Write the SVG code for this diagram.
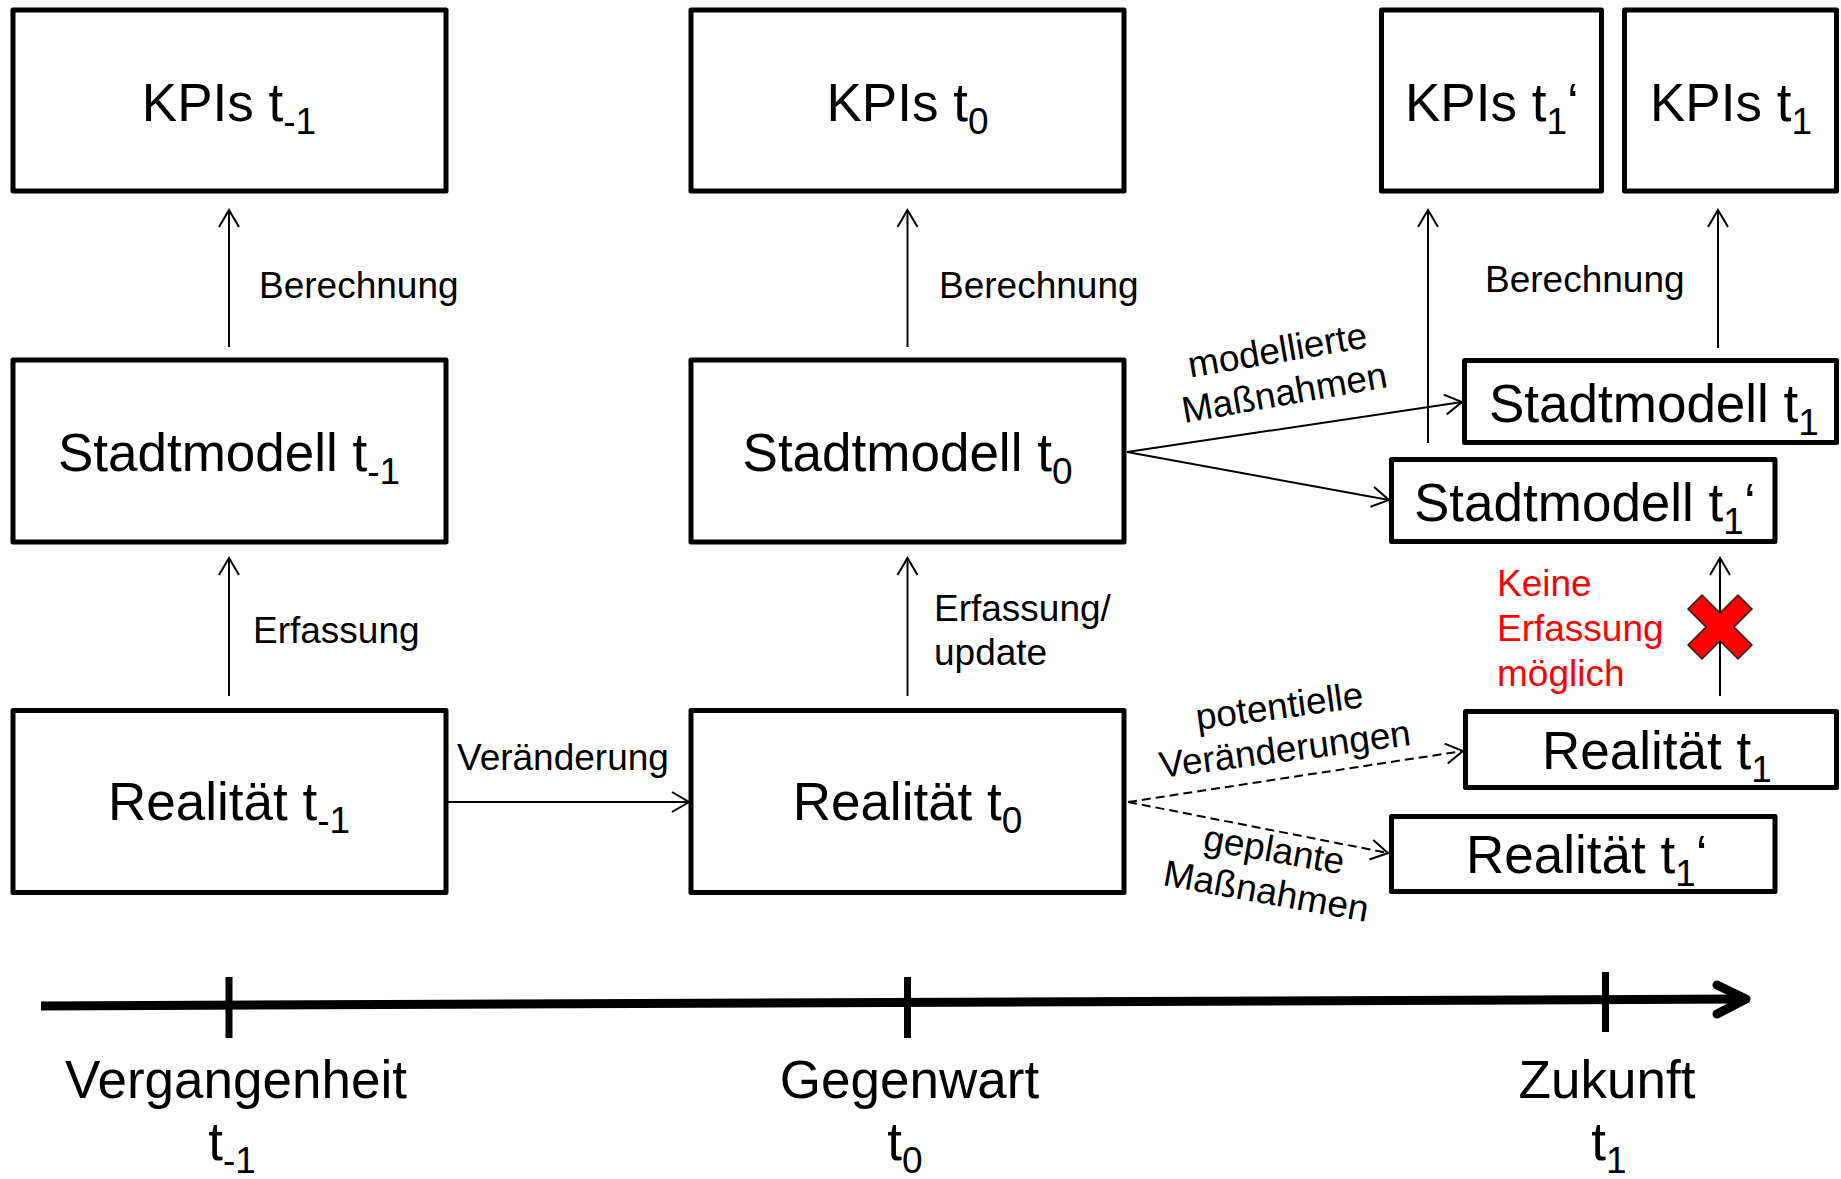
<svg xmlns="http://www.w3.org/2000/svg" width="1841" height="1179" viewBox="0 0 1841 1179">
  <style>
    .box { fill: #fff; stroke: #000; stroke-width: 5; stroke-linejoin: round; }
    .big { font-family: "Liberation Sans", Arial, sans-serif; font-size: 53px; fill: #000; }
    .sub { font-size: 37px; }
    .lbl { font-family: "Liberation Sans", Arial, sans-serif; font-size: 37px; fill: #000; }
    .red { fill: #ff0000; }
    .conn { fill: none; stroke: #000; stroke-width: 2; }
    .dash { stroke-dasharray: 9 5; }
    .axis { fill: none; stroke: #000; stroke-width: 9; }
    .tick { stroke: #000; stroke-width: 7; }
  </style>
  <defs>
    <marker id="arrowOpen" markerUnits="userSpaceOnUse" viewBox="-20 -12 22 24" refX="0" refY="0" markerWidth="22" markerHeight="24" orient="auto" overflow="visible">
      <path d="M-17,-10 L0,0 L-17,10" fill="none" stroke="#000" stroke-width="2"/>
    </marker>
  </defs>
  <rect width="1841" height="1179" fill="#fff"/>

  <!-- connectors -->
  <g id="connectors">
    <line class="conn" x1="229" y1="347" x2="229" y2="210" marker-end="url(#arrowOpen)"/>
    <line class="conn" x1="907.5" y1="347" x2="907.5" y2="210" marker-end="url(#arrowOpen)"/>
    <line class="conn" x1="229" y1="696" x2="229" y2="558" marker-end="url(#arrowOpen)"/>
    <line class="conn" x1="907.5" y1="696" x2="907.5" y2="558" marker-end="url(#arrowOpen)"/>
    <line class="conn" x1="448" y1="802" x2="689" y2="802" marker-end="url(#arrowOpen)"/>
    <line class="conn" x1="1428" y1="443" x2="1428" y2="210" marker-end="url(#arrowOpen)"/>
    <line class="conn" x1="1718" y1="348" x2="1718" y2="210" marker-end="url(#arrowOpen)"/>
    <line class="conn" x1="1720" y1="696" x2="1720" y2="558" marker-end="url(#arrowOpen)"/>
    <line class="conn" x1="1127" y1="452" x2="1462" y2="402" marker-end="url(#arrowOpen)"/>
    <line class="conn" x1="1127" y1="452" x2="1389" y2="500" marker-end="url(#arrowOpen)"/>
    <line class="conn dash" x1="1128" y1="802" x2="1463" y2="751" marker-end="url(#arrowOpen)"/>
    <line class="conn dash" x1="1128" y1="802" x2="1388" y2="853" marker-end="url(#arrowOpen)"/>

    <!-- connector labels -->
    <text class="lbl" x="259" y="298">Berechnung</text>
    <text class="lbl" x="939" y="298">Berechnung</text>
    <text class="lbl" x="1485" y="292">Berechnung</text>
    <text class="lbl" x="253" y="643">Erfassung</text>
    <text class="lbl" x="934" y="621">Erfassung/</text>
    <text class="lbl" x="934" y="665">update</text>
    <text class="lbl" x="457" y="770">Veränderung</text>
    <text class="lbl" x="1279.5" y="362.5" text-anchor="middle" transform="rotate(-9.7 1279.5 362.5)">modellierte</text>
    <text class="lbl" x="1286.5" y="405" text-anchor="middle" transform="rotate(-10 1286.5 405)">Maßnahmen</text>
    <text class="lbl" x="1281" y="718.5" text-anchor="middle" transform="rotate(-7.8 1281 718.5)">potentielle</text>
    <text class="lbl" x="1286.5" y="761.5" text-anchor="middle" transform="rotate(-7.5 1286.5 761.5)">Veränderungen</text>
    <text class="lbl" x="1272" y="862" text-anchor="middle" transform="rotate(10 1272 862)">geplante</text>
    <text class="lbl" x="1264" y="903.5" text-anchor="middle" transform="rotate(10.2 1264 903.5)">Maßnahmen</text>
  </g>

  <!-- KPI row -->
  <g id="kpis-tm1">
    <rect class="box" x="13" y="10" width="433" height="181"/>
    <text class="big" x="229" y="121" text-anchor="middle">KPIs t<tspan class="sub" dy="13">-1</tspan></text>
  </g>
  <g id="kpis-t0">
    <rect class="box" x="691" y="10" width="433" height="181"/>
    <text class="big" x="907.5" y="121" text-anchor="middle">KPIs t<tspan class="sub" dy="13">0</tspan></text>
  </g>
  <g id="kpis-t1-alt">
    <rect class="box" x="1381.5" y="10" width="220" height="181"/>
    <text class="big" x="1405" y="121">KPIs t<tspan class="sub" dy="13">1</tspan><tspan dy="-13">‘</tspan></text>
  </g>
  <g id="kpis-t1">
    <rect class="box" x="1624.5" y="10" width="212" height="181"/>
    <text class="big" x="1650" y="121">KPIs t<tspan class="sub" dy="13">1</tspan></text>
  </g>

  <!-- city model row -->
  <g id="stadtmodell-tm1">
    <rect class="box" x="13" y="360" width="433" height="182"/>
    <text class="big" x="229" y="471" text-anchor="middle">Stadtmodell t<tspan class="sub" dy="13">-1</tspan></text>
  </g>
  <g id="stadtmodell-t0">
    <rect class="box" x="691" y="360" width="433" height="182"/>
    <text class="big" x="907.5" y="471" text-anchor="middle">Stadtmodell t<tspan class="sub" dy="13">0</tspan></text>
  </g>
  <g id="stadtmodell-t1">
    <rect class="box" x="1464.5" y="360.5" width="372" height="82"/>
    <text class="big" x="1489" y="422">Stadtmodell t<tspan class="sub" dy="13">1</tspan></text>
  </g>
  <g id="stadtmodell-t1-alt">
    <rect class="box" x="1391.5" y="459.5" width="383.5" height="82"/>
    <text class="big" x="1414" y="521">Stadtmodell t<tspan class="sub" dy="13">1</tspan><tspan dy="-13">‘</tspan></text>
  </g>

  <!-- reality row -->
  <g id="realitaet-tm1">
    <rect class="box" x="13" y="710.5" width="433" height="182"/>
    <text class="big" x="229" y="820" text-anchor="middle">Realität t<tspan class="sub" dy="13">-1</tspan></text>
  </g>
  <g id="realitaet-t0">
    <rect class="box" x="691" y="710.5" width="433" height="182"/>
    <text class="big" x="907.5" y="820" text-anchor="middle">Realität t<tspan class="sub" dy="13">0</tspan></text>
  </g>
  <g id="realitaet-t1">
    <rect class="box" x="1465.5" y="711.5" width="371" height="76"/>
    <text class="big" x="1542" y="769">Realität t<tspan class="sub" dy="13">1</tspan></text>
  </g>
  <g id="realitaet-t1-alt">
    <rect class="box" x="1391.5" y="816.5" width="383.5" height="75"/>
    <text class="big" x="1466" y="873">Realität t<tspan class="sub" dy="13">1</tspan><tspan dy="-13">‘</tspan></text>
  </g>

  <!-- capture not possible -->
  <g id="keine-erfassung">
    <text class="lbl red" x="1497" y="596">Keine</text>
    <text class="lbl red" x="1497" y="641">Erfassung</text>
    <text class="lbl red" x="1497" y="686">möglich</text>
    <polygon transform="translate(1720 627)" fill="#ff0000" stroke="#222" stroke-width="1.5" stroke-linejoin="miter"
      points="-18,-32 0,-14 18,-32 32,-18 14,0 32,18 18,32 0,14 -18,32 -32,18 -14,0 -32,-18"/>
  </g>

  <!-- time axis -->
  <g id="timeline">
    <line class="axis" x1="41" y1="1006" x2="1742" y2="999"/>
    <path d="M1717,985 L1746,999 L1717,1014" fill="none" stroke="#000" stroke-width="9" stroke-linecap="round" stroke-linejoin="round"/>
    <line class="tick" x1="229" y1="977" x2="229" y2="1038"/>
    <line class="tick" x1="907.5" y1="977" x2="907.5" y2="1038"/>
    <line class="tick" x1="1605.5" y1="972" x2="1605.5" y2="1032"/>
    <text class="big" x="236" y="1098" text-anchor="middle" font-size="52">Vergangenheit</text>
    <text class="big" x="232" y="1160" text-anchor="middle">t<tspan class="sub" dy="13">-1</tspan></text>
    <text class="big" x="909.5" y="1098" text-anchor="middle">Gegenwart</text>
    <text class="big" x="905" y="1160" text-anchor="middle">t<tspan class="sub" dy="13">0</tspan></text>
    <text class="big" x="1607" y="1098" text-anchor="middle">Zukunft</text>
    <text class="big" x="1609" y="1160" text-anchor="middle">t<tspan class="sub" dy="13">1</tspan></text>
  </g>
</svg>
